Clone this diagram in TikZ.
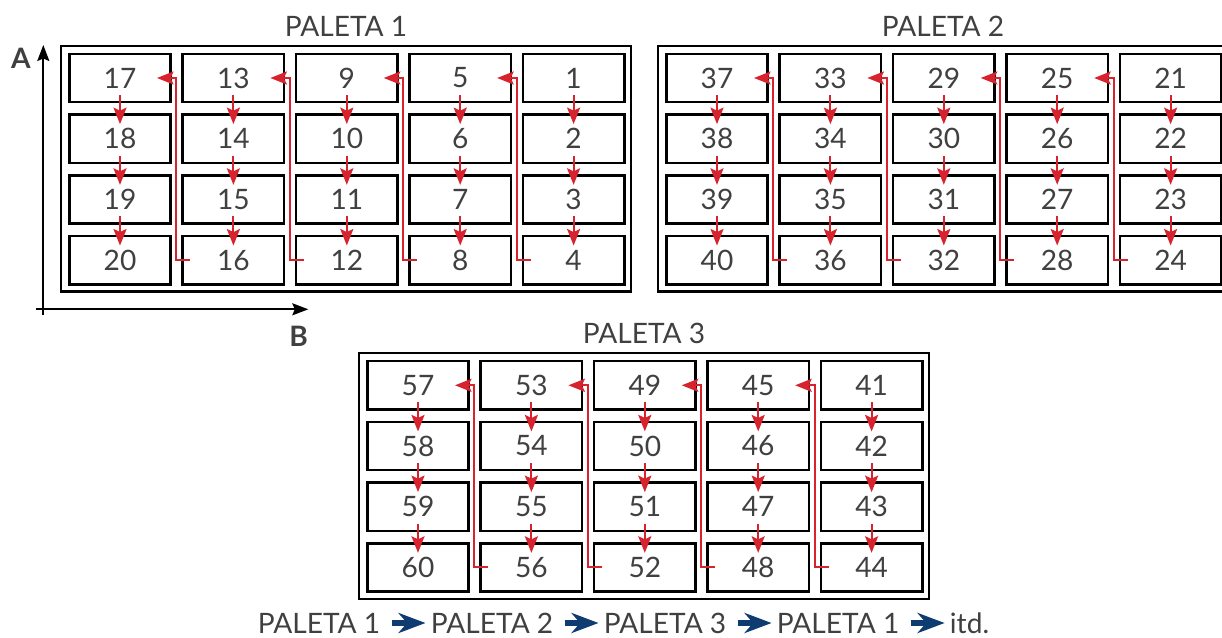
\documentclass[tikz,border=0pt]{standalone}
\usepackage{fontspec}
\setmainfont{Lato}
\usepackage{tikz}
\usetikzlibrary{
  arrows.meta,%
  calc,%
  positioning
}
\definecolor{palred}{RGB}{214,35,45}
\definecolor{palblue}{HTML}{0F3C70}
\definecolor{txtgray}{HTML}{404040}
\tikzset{
  cell/.style={draw=black, line width=1.5pt, minimum width=2.027cm,
    minimum height=0.967cm, inner sep=0pt, text=txtgray,
    font=\fontsize{16}{19}\selectfont},
  frame/.style={draw=black, line width=1.3pt},
  title/.style={text=txtgray, font=\fontsize{16}{19}\selectfont,
    inner sep=0pt, text height=11.5pt, text depth=0pt},
  axislabel/.style={title, font=\fontsize{16}{19}\selectfont\bfseries},
  flow/.style={palred, line width=1.2pt,
    -{Stealth[length=3.3mm,width=2.6mm,inset=0.6mm]}},
  axisline/.style={black, line width=1.1pt,
    -{Stealth[length=3.2mm,width=2.4mm,inset=0.5mm]}},
  order/.style={palblue, line width=3.2pt,
    -{Stealth[length=5.4mm,width=4mm,inset=1.7mm]},
    shorten <=0.22cm, shorten >=0.1cm}
}

\begin{document}
\begin{tikzpicture}[x=0.02cm, y=-0.02cm]
  \clip (0,0) rectangle (1222,638);
  % pallets with their boxes
  \foreach \p/\dx/\dy in {1/0/0, 2/597/0, 3/298/307.3} {
    \draw[frame] ({\dx+61},{\dy+46}) rectangle ({\dx+631},{\dy+291.6});
    \node[title] (t\p) at ({\dx+346},{\dy+26.4}) {PALETA \p};
    \foreach \c in {1,...,5}
      \foreach \r in {1,...,4} {
        \pgfmathtruncatemacro\n{(5-\c)*4+\r+(\p-1)*20}
        \node[cell] (c\n) at ({\dx+120+(\c-1)*113.4},{\dy+78+(\r-1)*60.7}) {\n};
      }
  }
  % picking order
  \foreach \k in {1,...,59} {
    \pgfmathtruncatemacro\m{\k+1}
    \pgfmathtruncatemacro\q{mod(\k,4)}
    \pgfmathtruncatemacro\z{mod(\k,20)}
    \ifnum\z=0 \else
      \ifnum\q=0
        \draw[flow] ([xshift=0.18cm]c\k.west) -- ++(-0.28cm,0) |- ([xshift=-0.3cm]c\m.east);
      \else
        \draw[flow] ($(c\k.center)!0.28!(c\m.center)$) -- ($(c\k.center)!0.76!(c\m.center)$);
      \fi
    \fi
  }
  % axes
  \coordinate (abot) at (43.3,315);
  \coordinate (atop) at (43.3,45);
  \coordinate (bleft) at (36,309.3);
  \coordinate (bright) at (308.3,309.3);
  \draw[axisline] (abot) -- (atop);
  \draw[axisline] (bleft) -- (bright);
  \node[axislabel] (la) at (21,58) {A};
  \node[axislabel] (lb) at (298.7,336.7) {B};
  % sequence of pallets
  \node[title] (s1) at (319,623) {PALETA 1};
  \node[title, right=1cm of s1] (s2) {PALETA 2};
  \node[title, right=1cm of s2] (s3) {PALETA 3};
  \node[title, right=1cm of s3] (s4) {PALETA 1};
  \node[title, right=1cm of s4] (s5) {itd.};
  \foreach \a/\b in {s1/s2, s2/s3, s3/s4, s4/s5}
    \draw[order] (\a.east) -- (\b.west);
\end{tikzpicture}
\end{document}
